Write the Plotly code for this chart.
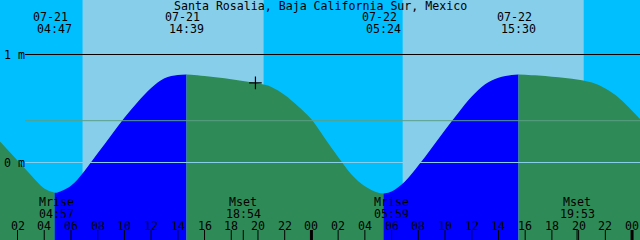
import plotly.graph_objects as go

# ---------------- data ----------------
title_text = "Santa Rosalia, Baja California Sur, Mexico"

# hours since 07-21 00:00, tide height in metres
tide_hours = [0, 1, 2, 3, 4, 4.783, 5, 6, 7, 8, 9, 10, 11, 12, 13, 14, 14.65,
              15, 16, 17, 18, 19, 20, 21, 22, 23, 24, 25, 26, 27, 28, 29, 29.4,
              30, 31, 32, 33, 34, 35, 36, 37, 38, 39, 39.5,
              40, 41, 42, 43, 44, 45, 46, 47, 48, 49]
tide_m = [0.285, 0.152, 0.018, -0.115, -0.24, -0.28, -0.277, -0.215, -0.08, 0.085,
          0.25, 0.415, 0.56, 0.69, 0.78, 0.81, 0.815,
          0.813, 0.80, 0.786, 0.77, 0.752, 0.733, 0.70, 0.625, 0.52, 0.40, 0.225,
          0.052, -0.11, -0.22, -0.28, -0.287,
          -0.268, -0.175, -0.028, 0.135, 0.30, 0.46, 0.61, 0.725, 0.785, 0.81, 0.815,
          0.813, 0.805, 0.795, 0.783, 0.767, 0.74, 0.685, 0.60, 0.48, 0.35]

extreme_hours = [4.783, 14.65, 29.4, 39.5]
extreme_dates = ["07-21", "07-21", "07-22", "07-22"]
extreme_clock = ["04:47", "14:39", "05:24", "15:30"]

sunrise_hours = [6.87, 30.83]
sunset_hours = [20.42, 44.38]

moon_hours = [4.95, 18.9, 29.983, 43.883]
moon_names = ["Mrise", "Mset", "Mrise", "Mset"]
moon_clock = ["04:57", "18:54", "05:59", "19:53"]

tick_hours = [2, 4, 6, 8, 10, 12, 14, 16, 18, 20, 22, 24,
              26, 28, 30, 32, 34, 36, 38, 40, 42, 44, 46, 48]
tick_labels = ["02", "04", "06", "08", "10", "12", "14", "16", "18", "20", "22", "00",
               "02", "04", "06", "08", "10", "12", "14", "16", "18", "20", "22", "00"]
midnight_hours = [24, 48]

level_values = [1.0, 0.0]
level_labels = ["1 m", "0 m"]
mean_level = 0.387

mark_hours = [19.81]
mark_m = [0.737]

# ---------------- layout constants ----------------
W, H = 640, 240
PX_PER_HOUR = 13.36
T0 = 2 - 17.5 / PX_PER_HOUR
T1 = T0 + W / PX_PER_HOUR
PX_PER_M = 108.0
Y_TOP = 162.5 / PX_PER_M
Y_BOT = -(H - 162.5) / PX_PER_M
BASE = Y_BOT - 0.2

NIGHT = "#00BFFF"
DAY = "#87CEEB"
EBB = "#2E8B57"
FLOOD = "#0000FF"
FONT = dict(family="DejaVu Sans Mono", size=11.6, color="black")


def py(pix):
    return 1 - pix / H


fig = go.Figure()

# tide fill, split at extremes: rising = flood colour, falling = ebb colour
bounds = [tide_hours[0]] + extreme_hours + [tide_hours[-1]]
lookup = dict(zip(tide_hours, tide_m))
for a, b in zip(bounds[:-1], bounds[1:]):
    xs = [t for t in tide_hours if a <= t <= b]
    ys = [lookup[t] for t in xs]
    color = FLOOD if ys[-1] > ys[0] else EBB
    fig.add_trace(go.Scatter(x=[a, b], y=[BASE, BASE], mode="lines",
                             line=dict(width=0), hoverinfo="skip", showlegend=False))
    fig.add_trace(go.Scatter(x=xs, y=ys, mode="lines", fill="tonexty",
                             fillcolor=color, line=dict(width=0, shape="spline", color=color),
                             hoverinfo="skip", showlegend=False))

# mark
fig.add_trace(go.Scatter(x=mark_hours, y=mark_m, mode="markers",
                         marker=dict(symbol="cross-thin", size=9,
                                     line=dict(color="black", width=1.2)),
                         hoverinfo="skip", showlegend=False))

shapes = []
# daylight background
for sr, ss in zip(sunrise_hours, sunset_hours):
    shapes.append(dict(type="rect", xref="x", yref="paper", x0=sr, x1=ss, y0=0, y1=1,
                       fillcolor=DAY, line=dict(width=0), layer="below"))

# level lines
x_line0 = 25 / W
shapes.append(dict(type="line", xref="paper", yref="y", x0=x_line0, x1=1,
                   y0=level_values[0], y1=level_values[0],
                   line=dict(color="black", width=1), layer="above"))
shapes.append(dict(type="line", xref="paper", yref="y", x0=x_line0, x1=1,
                   y0=mean_level, y1=mean_level,
                   line=dict(color="#5a9e86", width=1), layer="above"))
shapes.append(dict(type="line", xref="paper", yref="y", x0=x_line0, x1=1,
                   y0=level_values[1], y1=level_values[1],
                   line=dict(color=DAY, width=1), layer="above"))

# hour ticks
for t in tick_hours:
    w = 3 if t in midnight_hours else 1
    shapes.append(dict(type="line", xref="x", yref="paper", x0=t, x1=t,
                       y0=0, y1=10 / H, line=dict(color="black", width=w), layer="above"))
for t, n in zip(moon_hours, moon_names):
    if n == "Mset":
        shapes.append(dict(type="line", xref="x", yref="paper", x0=t, x1=t,
                           y0=0, y1=10 / H, line=dict(color="black", width=1), layer="above"))

ann = []
ann.append(dict(text=title_text, xref="paper", yref="paper", x=0.5, y=py(6),
                xanchor="center", yanchor="middle", showarrow=False, font=FONT))
for t, d, c in zip(extreme_hours, extreme_dates, extreme_clock):
    ann.append(dict(text=d, xref="x", yref="paper", x=t, y=py(17.5), xshift=-4.5,
                    xanchor="center", yanchor="middle", showarrow=False, font=FONT))
    ann.append(dict(text=c, xref="x", yref="paper", x=t, y=py(29),
                    xanchor="center", yanchor="middle", showarrow=False, font=FONT))
for v, lab in zip(level_values, level_labels):
    ann.append(dict(text=lab, xref="paper", yref="y", x=2 / W, y=v,
                    xanchor="left", yanchor="middle", showarrow=False, font=FONT))
for t, n, c in zip(moon_hours, moon_names, moon_clock):
    ann.append(dict(text=n, xref="x", yref="paper", x=t, y=py(202),
                    xanchor="center", yanchor="middle", showarrow=False, font=FONT))
    ann.append(dict(text=c, xref="x", yref="paper", x=t, y=py(213.5),
                    xanchor="center", yanchor="middle", showarrow=False, font=FONT))
for t, lab in zip(tick_hours, tick_labels):
    ann.append(dict(text=lab, xref="x", yref="paper", x=t, y=py(226),
                    xanchor="center", yanchor="middle", showarrow=False, font=FONT))

fig.update_layout(
    width=W, height=H, margin=dict(l=0, r=0, t=0, b=0),
    paper_bgcolor=NIGHT, plot_bgcolor=NIGHT,
    xaxis=dict(range=[T0, T1], visible=False, fixedrange=True),
    yaxis=dict(range=[Y_BOT, Y_TOP], visible=False, fixedrange=True),
    shapes=shapes, annotations=ann, showlegend=False,
)

fig.write_html("out.html", config={"displayModeBar": False})
